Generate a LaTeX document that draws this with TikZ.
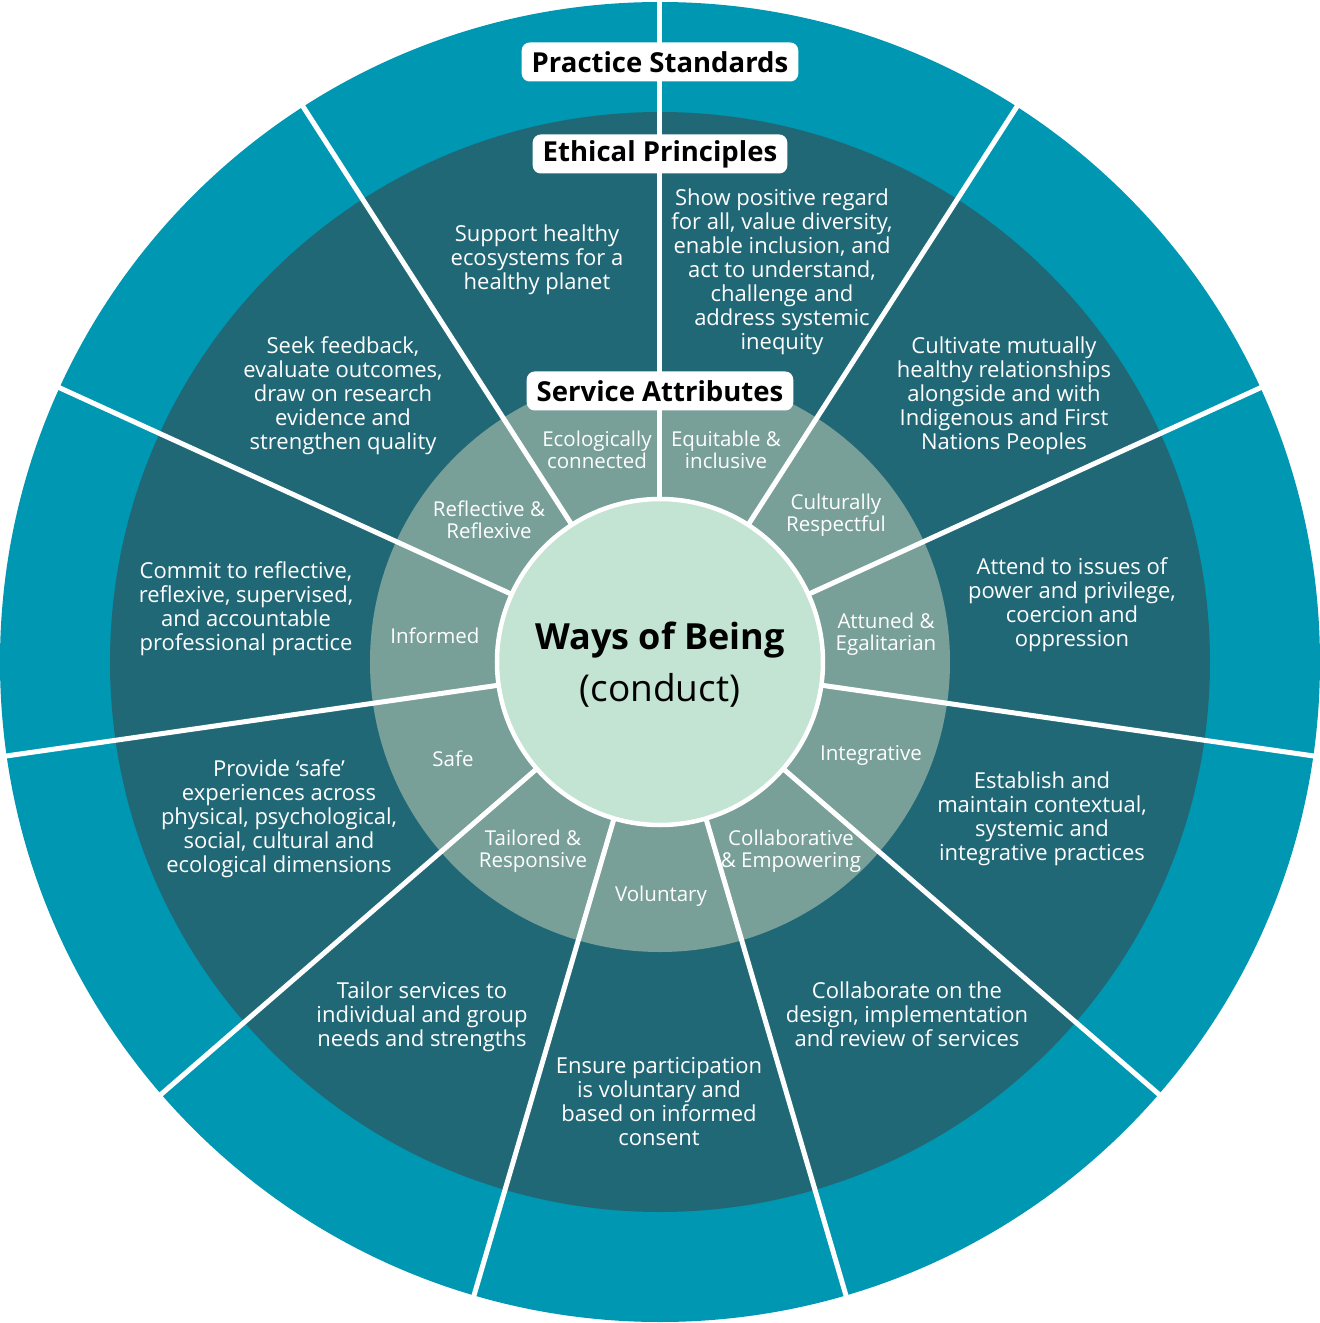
\documentclass[tikz,border=0pt]{standalone}
\usepackage{fontspec}
\setmainfont{Open Sans}
\definecolor{outerc}{RGB}{0,151,178}
\definecolor{darkc}{RGB}{33,104,119}
\definecolor{midc}{RGB}{120,160,152}
\definecolor{innerc}{RGB}{195,227,211}
\tikzset{
  ringtext/.style={text=white, align=center, inner sep=0pt, font=\fontsize{22}{24}\selectfont},
  attrtext/.style={text=white, align=center, inner sep=0pt, font=\fontsize{20.5}{22}\selectfont},
  tag/.style={fill=white, rounded corners=8pt, inner xsep=10pt, minimum height=39pt, font=\fontsize{27.5}{30}\selectfont\bfseries},
  divider/.style={white, line width=5pt}
}
\begin{document}
\begin{tikzpicture}[x=1pt,y=1pt]
\useasboundingbox (-660,-661) rectangle (660,662);
\fill[outerc] (0,0) circle (660);
\fill[darkc] (0,0) circle (550);
\fill[midc] (0,0) circle (290);
\foreach \k in {0,...,10} \draw[divider] (90-\k*32.72727:150) -- (90-\k*32.72727:664);
\filldraw[fill=innerc, draw=white, line width=4.5pt] (0,0) circle (163);
% labels
\node[tag] (ps) at (0,600) {Practice Standards};
\node[tag] (ep) at (0,508) {Ethical Principles};
\node[tag] (sa) at (0,271) {Service Attributes};
% centre
\node[font=\fontsize{36}{40}\selectfont\bfseries, inner sep=0pt] (wob) at (0,22) {Ways of Being};
\node[font=\fontsize{37}{40}\selectfont, inner sep=0pt] (cond) at (0,-28) {(conduct)};
% ethical principles
\node[ringtext] (p1) at (-123,402) {Support healthy\\ecosystems for a\\healthy planet};
\node[ringtext] (p2) at (122,390) {Show positive regard\\for all, value diversity,\\enable inclusion, and\\act to understand,\\challenge and\\address systemic\\inequity};
\node[ringtext] (p3) at (344,266) {Cultivate mutually\\healthy relationships\\alongside and with\\Indigenous and First\\Nations Peoples};
\node[ringtext] (p4) at (412,57) {Attend to issues of\\power and privilege,\\coercion and\\oppression};
\node[ringtext] (p5) at (382,-157) {Establish and\\maintain contextual,\\systemic and\\integrative practices};
\node[ringtext] (p6) at (247,-352) {Collaborate on the\\design, implementation\\and review of services};
\node[ringtext] (p7) at (-1,-440) {Ensure participation\\is voluntary and\\based on informed\\consent};
\node[ringtext] (p8) at (-238,-355) {Tailor services to\\individual and group\\needs and strengths};
\node[ringtext] (p9) at (-381,-157) {Provide ‘safe’\\experiences across\\physical, psychological,\\social, cultural and\\ecological dimensions};
\node[ringtext] (p10) at (-414,53) {Commit to reflective,\\reflexive, supervised,\\and accountable\\professional practice};
\node[ringtext] (p11) at (-317,266) {Seek feedback,\\evaluate outcomes,\\draw on research\\evidence and\\strengthen quality};
% attributes
\node[attrtext] (a1) at (-63,212) {Ecologically\\connected};
\node[attrtext] (a2) at (66,212) {Equitable \&\\inclusive};
\node[attrtext] (a3) at (176,147) {Culturally\\Respectful};
\node[attrtext] (a4) at (226,28) {Attuned \&\\Egalitarian};
\node[attrtext] (a5) at (211,-93) {Integrative};
\node[attrtext] (a6) at (131,-189) {Collaborative\\\& Empowering};
\node[attrtext] (a7) at (1,-234) {Voluntary};
\node[attrtext] (a8) at (-127,-189) {Tailored \&\\Responsive};
\node[attrtext] (a9) at (-207,-97) {Safe};
\node[attrtext] (a10) at (-225,26) {Informed};
\node[attrtext] (a11) at (-171,142) {Reflective \&\\Reflexive};
\end{tikzpicture}
\end{document}
